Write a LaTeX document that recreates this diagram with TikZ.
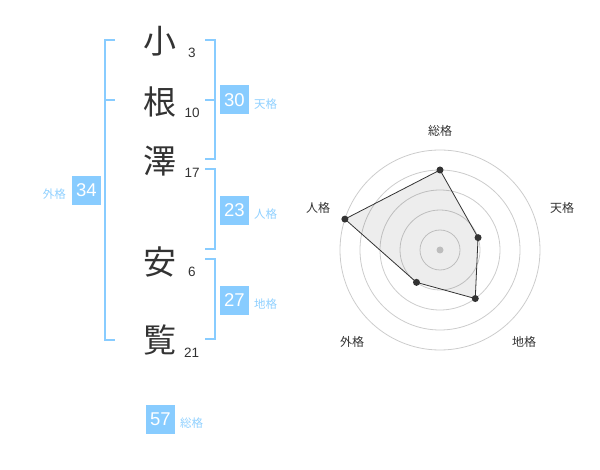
\documentclass[tikz,border=0pt]{standalone}
\usepackage{fontspec}
\setmainfont{Liberation Sans}
\newfontfamily\jp{Noto Sans CJK JP}
\definecolor{sky}{HTML}{88CCFF}
\definecolor{skytxt}{HTML}{8FD0FF}
\definecolor{ink}{HTML}{333333}
\definecolor{ring}{HTML}{CCCCCC}
\begin{document}
\begin{tikzpicture}[x=1pt,y=-1pt,
  kanji/.style={font=\jp\fontsize{33}{33}\selectfont, text=ink, inner sep=0pt},
  strokes/.style={font=\fontsize{13.5}{13.5}\selectfont, text=ink, inner sep=0pt},
  numbox/.style={fill=sky, text=white, minimum width=28.5pt, minimum height=29pt, inner sep=0pt, font=\fontsize{18.5}{18.5}\selectfont},
  kakulbl/.style={font=\jp\fontsize{11.5}{11.5}\selectfont, text=skytxt, inner sep=0pt},
  bracket/.style={draw=sky, line width=2pt},
  radlbl/.style={font=\jp\fontsize{12}{12}\selectfont, text=ink, inner sep=0pt},
  ringline/.style={draw=ring, line width=0.8pt},
  dot/.style={circle, fill=ink, inner sep=0pt, minimum size=7pt}]
\useasboundingbox (0,0) rectangle (600,470);
% characters
\node[kanji] (k1) at (160,41) {小};
\node[kanji] (k2) at (160,102) {根};
\node[kanji] (k3) at (160,161) {澤};
\node[kanji] (k4) at (160,262) {安};
\node[kanji] (k5) at (160,340) {覧};
\node[strokes, anchor=west] (s1) at (188,53) {3};
\node[strokes, anchor=west] (s2) at (184.5,113) {10};
\node[strokes, anchor=west] (s3) at (184.5,173) {17};
\node[strokes, anchor=west] (s4) at (188,272) {6};
\node[strokes, anchor=west] (s5) at (184,353) {21};
% brackets
\draw[bracket] (115,40) -- (104.5,40) -- (104.5,340) -- (115,340);
\draw[bracket] (104.5,100) -- (115,100);
\draw[bracket] (205,40) -- (214.5,40) -- (214.5,159.5) -- (205,159.5);
\draw[bracket] (205,100) -- (214.5,100);
\draw[bracket] (205,169.5) -- (214.5,169.5) -- (214.5,249.5) -- (205,249.5);
\draw[bracket] (205,259.5) -- (214.5,259.5) -- (214.5,339.5) -- (205,339.5);
% boxes
\node[numbox] (ten) at (234.5,100) {30};
\node[kakulbl, anchor=west] (tenl) at (254,104) {天格};
\node[numbox] (jin) at (234.5,210.5) {23};
\node[kakulbl, anchor=west] (jinl) at (254,214) {人格};
\node[numbox] (chi) at (234.5,300.5) {27};
\node[kakulbl, anchor=west] (chil) at (254,304) {地格};
\node[numbox] (gai) at (86.5,190.5) {34};
\node[kakulbl, anchor=east] (gail) at (66,194) {外格};
\node[numbox] (sou) at (160.5,419) {57};
\node[kakulbl, anchor=west] (soul) at (180,423) {総格};
% radar
\coordinate (c) at (440,250);
\foreach \r in {20,40,60,80,100} \draw[ringline] (c) circle (\r);
\fill[ring] (c) circle (3.5);
\path (c) ++(0,-80) coordinate (pA);
\path (c) ++({40*cos(18)},{-40*sin(18)}) coordinate (pB);
\path (c) ++({60*cos(-54)},{-60*sin(-54)}) coordinate (pC);
\path (c) ++({40*cos(-126)},{-40*sin(-126)}) coordinate (pD);
\path (c) ++({100*cos(162)},{-100*sin(162)}) coordinate (pE);
\draw[ink, line width=0.8pt, fill=black, fill opacity=0.07] (pA) -- (pB) -- (pC) -- (pD) -- (pE) -- cycle;
\foreach \p in {pA,pB,pC,pD,pE} \node[dot] at (\p) {};
\node[radlbl] (lA) at (440,131) {総格};
\node[radlbl] (lB) at (562,208) {天格};
\node[radlbl] (lC) at (524,342) {地格};
\node[radlbl] (lD) at (352,342) {外格};
\node[radlbl] (lE) at (318,208) {人格};
\end{tikzpicture}
\end{document}
